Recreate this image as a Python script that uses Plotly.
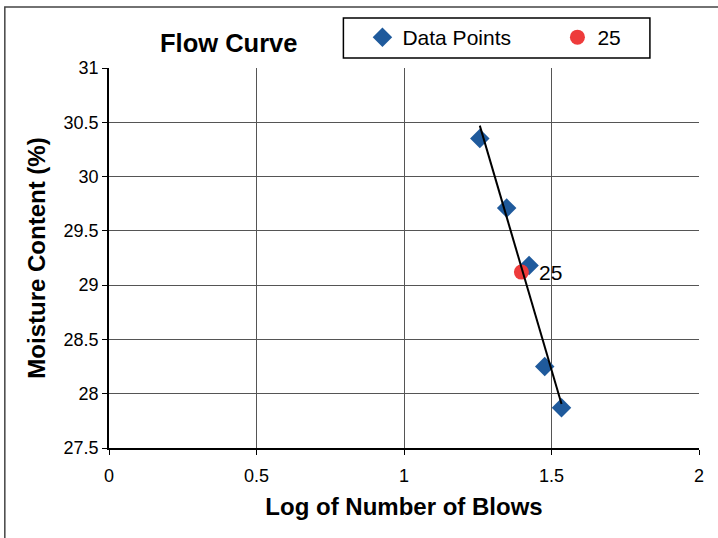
import numpy as np
import plotly.graph_objects as go

# datos
log_blows = [1.257, 1.348, 1.424, 1.477, 1.534]
moisture = [30.35, 29.71, 29.18, 28.25, 27.87]

# punto a 25 golpes
x25 = [1.398]
y25 = [29.12]
label25 = ["25"]

# recta de ajuste (tendencia lineal)
slope, inter = np.polyfit(log_blows, moisture, 1)
trend_x = [min(log_blows), max(log_blows)]
trend_y = [slope * v + inter for v in trend_x]

FONT = "Arial, Liberation Sans, sans-serif"

fig = go.Figure()

fig.add_trace(go.Scatter(
    x=log_blows, y=moisture, mode="markers", name="Data Points",
    marker=dict(symbol="diamond", size=15, color="#1f5a9c"),
))
fig.add_trace(go.Scatter(
    x=x25, y=y25, mode="markers", name="25",
    marker=dict(symbol="circle", size=15, color="#ee3b3b"),
))
fig.add_trace(go.Scatter(
    x=trend_x, y=trend_y, mode="lines", showlegend=False,
    line=dict(color="black", width=2),
))

# etiqueta junto al punto rojo
fig.add_annotation(x=x25[0], y=y25[0], text=label25[0], showarrow=False,
                   xanchor="left", xshift=16, font=dict(size=21))

# posicion en pixeles -> papel
def px(x):
    return (x - 109) / 589

def py(y):
    return (448 - y) / 380

fig.update_layout(
    width=718, height=538,
    margin=dict(l=109, r=19, t=68, b=90, autoexpand=False),
    paper_bgcolor="white", plot_bgcolor="white",
    font=dict(family=FONT, size=18, color="black"),
    legend=dict(
        orientation="h", x=px(362), y=py(17), xanchor="left", yanchor="top",
        borderwidth=0, bgcolor="rgba(0,0,0,0)",
        font=dict(size=21), entrywidth=150, entrywidthmode="pixels",
        itemclick=False,
    ),
    shapes=[
        dict(type="rect", xref="paper", yref="paper",
             x0=px(5), x1=px(725), y0=py(545), y1=py(7),
             line=dict(color="#444", width=1.5), layer="below"),
        dict(type="rect", xref="paper", yref="paper",
             x0=px(343), x1=px(649), y0=py(58), y1=py(18),
             line=dict(color="black", width=1.5), layer="below"),
    ],
)
fig.add_annotation(text="<b>Flow Curve</b>", xref="paper", yref="paper",
                   x=px(228), y=py(43), xanchor="center", yanchor="middle",
                   showarrow=False, font=dict(size=25.5))

fig.update_xaxes(
    range=[0, 2], dtick=0.5, showgrid=True, gridcolor="#555", gridwidth=1,
    showline=True, linecolor="black", linewidth=1.5, mirror=False,
    ticks="outside", ticklen=5, tickcolor="black", zeroline=False,
    ticklabelstandoff=6,
    title=dict(text="<b>Log of Number of Blows</b>", font=dict(size=24), standoff=13),
)
fig.update_yaxes(
    range=[27.5, 31], dtick=0.5, showgrid=True, gridcolor="#555", gridwidth=1,
    showline=True, linecolor="black", linewidth=1.5, mirror=False,
    ticks="outside", ticklen=5, tickcolor="black", zeroline=False,
    title=dict(text="<b>Moisture Content (%)</b>", font=dict(size=24), standoff=11),
)

fig.write_html("out.html", config={"displayModeBar": False},
               post_script="document.body.style.margin='0';")
